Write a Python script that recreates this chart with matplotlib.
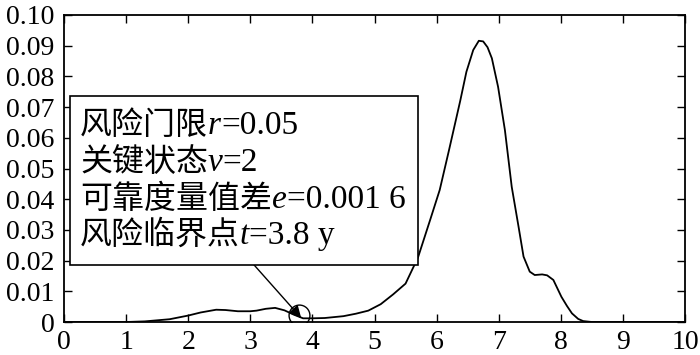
import matplotlib
matplotlib.use("Agg")
import matplotlib.pyplot as plt
from matplotlib.patches import Rectangle

# ---- data ----
t_years = [0.0, 1.0, 1.3, 1.7, 2.0, 2.2, 2.45, 2.6, 2.8, 3.0, 3.1, 3.25, 3.4, 3.55,
           3.7, 3.85, 4.0, 4.2, 4.5, 4.7, 4.9, 5.1, 5.3, 5.5, 5.7, 5.9, 6.05, 6.2,
           6.38, 6.48, 6.59, 6.68, 6.75, 6.82, 6.89, 6.99, 7.10, 7.21, 7.32, 7.40,
           7.50, 7.58, 7.70, 7.78, 7.88, 8.01, 8.10, 8.18, 8.28, 8.36, 8.5, 10.0]
density = [0.0, 0.0, 0.0002, 0.0009, 0.0021, 0.0031, 0.0040, 0.0039, 0.0035, 0.0035,
           0.0037, 0.0043, 0.0046, 0.0038, 0.0024, 0.0012, 0.0012, 0.0013, 0.0019,
           0.0027, 0.0037, 0.0058, 0.0090, 0.0125, 0.0210, 0.0335, 0.0430, 0.0560,
           0.0720, 0.0815, 0.0886, 0.0916, 0.0914, 0.0895, 0.0859, 0.0766, 0.0625,
           0.0440, 0.0310, 0.0213, 0.0164, 0.0153, 0.0155, 0.0152, 0.0137, 0.0082,
           0.0052, 0.0028, 0.0010, 0.0003, 0.0, 0.0]
critical_point = (3.79, 0.0023)
arrow_tip = (3.82, 0.0013)
arrow_start = (3.06, 0.0186)
x_ticks = list(range(0, 11))
y_ticks = [0, 0.01, 0.02, 0.03, 0.04, 0.05, 0.06, 0.07, 0.08, 0.09, 0.10]
y_tick_labels = ["0", "0.01", "0.02", "0.03", "0.04", "0.05", "0.06", "0.07", "0.08", "0.09", "0.10"]
box_lines = [
    ("风险门限", "r", "=0.05"),
    ("关键状态", "v", "=2"),
    ("可靠度量值差", "e", "=0.001 6"),
    ("风险临界点", "t", "=3.8 y"),
]

SERIF = "Liberation Serif"
CJK = "Noto Sans CJK SC"

fig = plt.figure(figsize=(7.0, 3.55), dpi=100)
ax = fig.add_axes([64 / 700, 33 / 355, 621 / 700, 307 / 355])

ax.plot(t_years, density, color="black", lw=1.3, zorder=2)
ax.plot([critical_point[0]], [critical_point[1]], "o", mfc="none", mec="black",
        ms=15, mew=1.0, zorder=3)
ax.annotate("", xy=arrow_tip, xytext=arrow_start,
            arrowprops=dict(arrowstyle="-|>", color="black", lw=1.0,
                            mutation_scale=18, shrinkA=0, shrinkB=0), zorder=3)

ax.set_xlim(0, 10)
ax.set_ylim(0, 0.10)
ax.set_xticks(x_ticks)
ax.set_xticklabels([str(v) for v in x_ticks])
ax.set_yticks(y_ticks)
ax.set_yticklabels(y_tick_labels)
ax.tick_params(direction="in", length=6, width=1.0, top=True, right=True,
               labelsize=20)
ax.tick_params(axis="y", pad=7)
ax.tick_params(axis="x", pad=6)
for lab in ax.get_xticklabels() + ax.get_yticklabels():
    lab.set_fontfamily(SERIF)
for sp in ax.spines.values():
    sp.set_linewidth(1.3)

# text box
x0 = (70 - 64) / 621
x1 = (418 - 64) / 621
y1 = (322 - 96) / 307
y0 = (322 - 265) / 307
rect = Rectangle((x0, y0), x1 - x0, y1 - y0, transform=ax.transAxes,
                 facecolor="white", edgecolor="black", lw=1.2, zorder=4)
ax.add_patch(rect)

fig.canvas.draw()
renderer = fig.canvas.get_renderer()
baselines_px = [134, 171, 208, 244]  # from top of image
left_px = 80
for (cn, var, rest), by in zip(box_lines, baselines_px):
    xpix = left_px
    ypix = 355 - by
    parts = [(cn, dict(family=CJK, size=23)),
             (var, dict(family=SERIF, size=24, style="italic")),
             (rest, dict(family=SERIF, size=24))]
    for s, kw in parts:
        txt = fig.text(xpix / 700, ypix / 355, s, ha="left", va="baseline",
                       zorder=5, **kw)
        bb = txt.get_window_extent(renderer)
        xpix = bb.x1

fig.savefig("out.png", dpi=100)
